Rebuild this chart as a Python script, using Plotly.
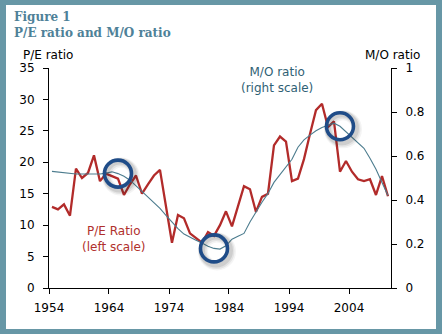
import numpy as np
import plotly.graph_objects as go

# ---- data -------------------------------------------------------------
years = list(range(1954, 2011))
pe_ratio = [
    12.9, 12.5, 13.3, 11.5, 19.0, 17.5, 18.3, 21.1, 17.0, 18.2,
    17.8, 17.4, 14.8, 16.5, 17.9, 15.0, 16.5, 17.9, 18.8, 13.0,
    7.2, 11.6, 11.1, 8.7, 8.0, 7.2, 8.9, 8.3, 10.0, 12.2,
    9.8, 13.2, 16.2, 15.7, 12.1, 14.5, 15.0, 22.7, 24.1, 23.3,
    17.0, 17.4, 20.5, 24.5, 28.3, 29.3, 25.6, 26.5, 18.5, 20.2,
    18.5, 17.3, 17.0, 17.3, 14.8, 17.8, 14.6,
]
mo_ratio = [
    0.530, 0.527, 0.522, 0.518, 0.518, 0.518, 0.518, 0.518, 0.518, 0.522,
    0.528, 0.520, 0.508, 0.490, 0.465, 0.440, 0.415, 0.388, 0.362, 0.330,
    0.300, 0.270, 0.245, 0.230, 0.217, 0.205, 0.190, 0.180, 0.177, 0.192,
    0.222, 0.235, 0.248, 0.300, 0.347, 0.390, 0.430, 0.480, 0.515, 0.550,
    0.585, 0.640, 0.673, 0.695, 0.715, 0.730, 0.740, 0.749, 0.735, 0.710,
    0.685, 0.660, 0.635, 0.590, 0.540, 0.480, 0.420,
]
highlight_years = [1965, 1981, 2002]
x_tick_years = [1954, 1964, 1974, 1984, 1994, 2004]
pe_ticks = [0, 5, 10, 15, 20, 25, 30, 35]
mo_ticks = [0, 0.2, 0.4, 0.6, 0.8, 1]

# ---- layout geometry (pixels) ----------------------------------------
W, H = 442, 334
ML, MR, MT, MB = 49, 51, 68, 46
PW, PH = W - ML - MR, H - MT - MB


def px_x(px):
    return (px - ML) / PW


def px_y(py):
    return 1 - (py - MT) / PH


# values are annual, dated at mid-year on a date axis
x_dates = [f"{y}-07-01" for y in years]
hl_dates = [f"{y}-07-01" for y in highlight_years]
hl_mo = np.interp(highlight_years, years, mo_ratio)

RED = "#B22B2A"
TEAL = "#4C7C8E"
RING = "#1F4C88"
FRAME = "#6797A6"
TITLE = "#4E8198"
FONT = "DejaVu Sans"

fig = go.Figure()

fig.add_trace(go.Scatter(
    x=x_dates, y=mo_ratio, yaxis="y2", mode="lines",
    line=dict(color=TEAL, width=1.1), hoverinfo="skip", showlegend=False,
))
fig.add_trace(go.Scatter(
    x=x_dates, y=pe_ratio, mode="lines",
    line=dict(color=RED, width=2.3), hoverinfo="skip", showlegend=False,
))

# soft shadow behind the highlight rings, nudged down and to the right
day_per_px = (365.25 * 57) / PW
mo_per_px = 1.0 / PH
for w, op, dx, dy in [(10, 0.05, 3, 3), (8, 0.08, 2.5, 2.5), (6, 0.11, 2, 2)]:
    sx = [np.datetime64(d) + np.timedelta64(int(dx * day_per_px), "D") for d in hl_dates]
    sy = [v - dy * mo_per_px for v in hl_mo]
    fig.add_trace(go.Scatter(
        x=[str(s) for s in sx], y=sy, yaxis="y2", mode="markers",
        marker=dict(symbol="circle-open", size=28,
                    color=f"rgba(40,40,40,{op})", line=dict(width=w)),
        hoverinfo="skip", showlegend=False,
    ))

fig.add_trace(go.Scatter(
    x=hl_dates, y=hl_mo, yaxis="y2", mode="markers",
    marker=dict(symbol="circle-open", size=27, color=RING,
                line=dict(width=3.6)),
    hoverinfo="skip", showlegend=False,
))

tick_font = dict(family=FONT, size=12, color="black")

fig.update_layout(
    width=W, height=H,
    margin=dict(l=ML, r=MR, t=MT, b=MB, pad=0),
    paper_bgcolor=FRAME,
    plot_bgcolor="rgba(0,0,0,0)",
    xaxis=dict(
        type="date",
        range=["1954-01-01", "2011-01-01"],
        tickvals=[f"{y}-01-01" for y in x_tick_years],
        ticktext=[str(y) for y in x_tick_years],
        ticks="outside", ticklen=5, tickcolor="black", tickwidth=1,
        showline=True, linecolor="black", linewidth=1,
        showgrid=False, zeroline=False, tickfont=tick_font,
        ticklabelstandoff=4,
    ),
    yaxis=dict(
        range=[0, 35], tickvals=pe_ticks,
        ticks="outside", ticklen=5, tickcolor="black", tickwidth=1,
        showline=True, linecolor="black", linewidth=1,
        showgrid=False, zeroline=False, tickfont=tick_font,
        ticklabelstandoff=6,
    ),
    yaxis2=dict(
        range=[0, 1], tickvals=mo_ticks,
        ticktext=[f"{v:g}" for v in mo_ticks],
        overlaying="y", side="right",
        ticks="outside", ticklen=5, tickcolor="black", tickwidth=1,
        showline=True, linecolor="black", linewidth=1,
        showgrid=False, zeroline=False, tickfont=tick_font,
        ticklabelstandoff=6,
    ),
    shapes=[dict(
        type="rect", xref="paper", yref="paper", layer="below",
        x0=px_x(6), x1=px_x(436), y0=px_y(5), y1=px_y(329),
        fillcolor="white", line=dict(width=0),
    )],
)

annotations = [
    dict(text="<b>Figure 1</b>", x=px_x(12), y=px_y(17), xanchor="left",
         font=dict(family="DejaVu Serif", size=12, color=TITLE)),
    dict(text="<b>P/E ratio and M/O ratio</b>", x=px_x(12), y=px_y(33), xanchor="left",
         font=dict(family="DejaVu Serif", size=12, color=TITLE)),
    dict(text="P/E ratio", x=px_x(21), y=px_y(55), xanchor="left",
         font=dict(family=FONT, size=12, color="black")),
    dict(text="M/O ratio", x=px_x(392), y=px_y(55), xanchor="center",
         font=dict(family=FONT, size=12, color="black")),
    dict(text="M/O ratio<br>(right scale)", x=px_x(277), y=px_y(80), xanchor="center",
         font=dict(family=FONT, size=12, color="#2F6174")),
    dict(text="P/E Ratio<br>(left scale)", x=px_x(114), y=px_y(239), xanchor="center",
         font=dict(family=FONT, size=12, color="#B0302C")),
]
for a in annotations:
    a.update(xref="paper", yref="paper", yanchor="middle", showarrow=False)
fig.update_layout(annotations=annotations)

fig.write_html("out.html")
